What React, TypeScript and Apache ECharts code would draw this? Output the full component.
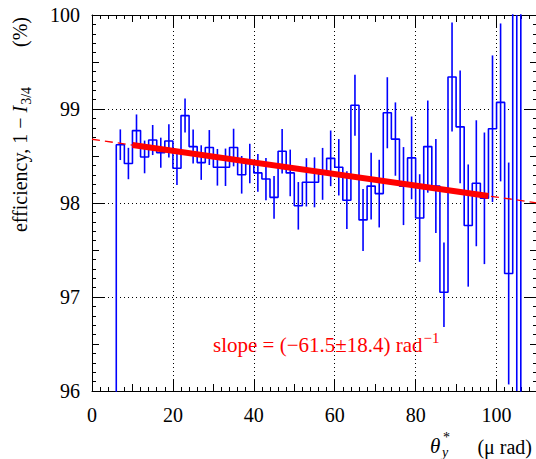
import React, { useEffect, useRef } from "react";
import * as echarts from "echarts";

// ---- data ----
const binCenters = [7, 9, 11, 13, 15, 17, 19, 21, 23, 25, 27, 29, 31, 33, 35, 37, 39, 41, 43, 45, 47, 49, 51, 53, 55, 57, 59, 61, 63, 65, 67, 69, 71, 73, 75, 77, 79, 81, 83, 85, 87, 89, 91, 93, 95, 97, 99, 101, 103, 105];
const binWidth = 2;
const emptyBinValue = 0;
const efficiency = [98.62, 98.42, 98.77, 98.49, 98.67, 98.535, 98.66, 98.37, 98.93, 98.6, 98.43, 98.59, 98.38, 98.38, 98.59, 98.3, 98.42, 98.32, 98.255, 98.06, 98.55, 98.32, 97.97, 98.22, 98.22, 98.31, 98.475, 98.38, 98.03, 99.04, 97.82, 98.18, 98.1, 98.96, 98.68, 98.18, 98.48, 97.84, 98.6, 98.18, 97.05, 99.34, 98.81, 97.76, 98.21, 98.05, 98.79, 99.07, 97.25, 100.8];
const errUp = [0.163, 0.167, 0.172, 0.174, 0.16, 0.16, 0.177, 0.179, 0.181, 0.181, 0.184, 0.186, 0.195, 0.199, 0.2, 0.2, 0.21, 0.2, 0.225, 0.227, 0.236, 0.248, 0.253, 0.257, 0.266, 0.276, 0.296, 0.3, 0.307, 0.325, 0.33, 0.355, 0.36, 0.378, 0.39, 0.415, 0.44, 0.466, 0.49, 0.5, 0.53, 0.58, 0.6, 0.65, 0.67, 0.7, 0.78, 0.84, 1.18, 5.5];
const errDown = [0.163, 0.167, 0.172, 0.174, 0.16, 0.16, 0.177, 0.179, 0.181, 0.181, 0.184, 0.186, 0.195, 0.199, 0.2, 0.2, 0.21, 0.2, 0.225, 0.227, 0.236, 0.248, 0.253, 0.257, 0.266, 0.276, 0.296, 0.3, 0.307, 0.325, 0.33, 0.355, 0.36, 0.378, 0.39, 0.415, 0.44, 0.466, 0.49, 0.5, 0.37, 0.58, 0.6, 0.65, 0.67, 0.7, 0.78, 0.84, 1.18, 5.5];

const fitIntercept = 98.678; // % at theta = 0
const fitSlopePerRad = -61.5; // rad^-1
const fitSlopeErr = 18.4;
const fitRange = [10, 98]; // urad
const fullRange = [0, 110];
const yRange = [96, 100];
const xMajor = 20;
const xMid = 10;
const yMajor = 1;
const yMid = 0.5;

// ---- derived ----
const slopePctPerUrad = fitSlopePerRad * 1e-6 * 100;
const fitAt = (x: number) => fitIntercept + slopePctPerUrad * x;

const FONT = '"Liberation Serif", "Times New Roman", serif';
const BLUE = "#0000ff";
const RED = "#ff0000";

export default function App() {
  const ref = useRef<HTMLDivElement>(null);
  useEffect(() => {
    if (!ref.current) return;
    const chart = echarts.init(ref.current, undefined, { renderer: "svg" });

    const last = binCenters.length - 1;
    const stepData: number[][] = [[binCenters[0] - binWidth / 2, emptyBinValue]];
    binCenters.forEach((c, i) => stepData.push([c - binWidth / 2, efficiency[i]]));
    stepData.push([binCenters[last] + binWidth / 2, efficiency[last]]);
    stepData.push([binCenters[last] + binWidth / 2, emptyBinValue]);

    const errData = binCenters.map((c, i) => [c, efficiency[i] - errDown[i], efficiency[i] + errUp[i]]);

    const dotted = { show: true, lineStyle: { color: "#000", width: 1, type: [1, 3] as any } };
    const mkX = (position: string, interval: number, tickLen: number, main: boolean, minor: boolean) => ({
      type: "value",
      position,
      min: fullRange[0],
      max: fullRange[1],
      interval,
      axisLine: { show: main, onZero: false, lineStyle: { color: "#000", width: 1 } },
      axisTick: { show: true, inside: true, length: tickLen, lineStyle: { color: "#000", width: 1 } },
      minorTick: { show: minor, splitNumber: 5, length: 4, lineStyle: { color: "#000", width: 1 } },
      axisLabel: {
        show: main && position === "bottom",
        fontFamily: FONT,
        fontSize: 20,
        color: "#000",
        margin: 14,
        formatter: (v: number) => (v > 100 ? "" : String(v)),
      },
      splitLine: main && position === "bottom" ? dotted : { show: false },
    });
    const mkY = (position: string, interval: number, tickLen: number, main: boolean, minor: boolean) => ({
      type: "value",
      position,
      min: yRange[0],
      max: yRange[1],
      interval,
      axisLine: { show: main, onZero: false, lineStyle: { color: "#000", width: 1 } },
      axisTick: { show: true, inside: true, length: tickLen, lineStyle: { color: "#000", width: 1 } },
      minorTick: { show: minor, splitNumber: 5, length: 4, lineStyle: { color: "#000", width: 1 } },
      axisLabel: {
        show: main && position === "left",
        fontFamily: FONT,
        fontSize: 20,
        color: "#000",
        margin: 12,
        padding: [8, 0, 0, 0],
      },
      splitLine: main && position === "left" ? dotted : { show: false },
    });

    chart.setOption({
      animation: false,
      grid: { left: 92, top: 15, width: 445, height: 376, containLabel: false },
      xAxis: [
        mkX("bottom", xMajor, 12, true, false),
        mkX("bottom", xMid, 7, false, true),
        mkX("top", xMajor, 12, true, false),
        mkX("top", xMid, 7, false, true),
      ],
      yAxis: [
        mkY("left", yMajor, 12, true, false),
        mkY("left", yMid, 7, false, true),
        mkY("right", yMajor, 12, true, false),
        mkY("right", yMid, 7, false, true),
      ],
      series: [
        {
          type: "line",
          step: "end",
          data: stepData,
          symbol: "none",
          clip: true,
          lineStyle: { color: BLUE, width: 1.6 },
          z: 3,
        },
        {
          type: "custom",
          data: errData,
          clip: true,
          renderItem: (params: any, api: any) => {
            const x = api.value(0);
            const lo = Math.max(api.value(1), yRange[0]);
            const hi = Math.min(api.value(2), yRange[1]);
            const p1 = api.coord([x, lo]);
            const p2 = api.coord([x, hi]);
            return {
              type: "line",
              shape: { x1: p1[0], y1: p1[1], x2: p2[0], y2: p2[1] },
              style: { stroke: BLUE, lineWidth: 1.6 },
            };
          },
          z: 3,
        },
        {
          type: "line",
          data: [[fullRange[0], fitAt(fullRange[0])], [fullRange[1], fitAt(fullRange[1])]],
          symbol: "none",
          lineStyle: { color: RED, width: 1.3, type: [8, 5] },
          z: 4,
        },
        {
          type: "line",
          data: [[fitRange[0], fitAt(fitRange[0])], [fitRange[1], fitAt(fitRange[1])]],
          symbol: "none",
          lineStyle: { color: RED, width: 6, cap: "butt" },
          z: 5,
        },
      ],
      graphic: [
        {
          type: "text",
          x: 20,
          y: 17,
          rotation: Math.PI / 2,
          style: {
            text: "{n|efficiency, 1 − }{i|I}{s|3/4}{n|        (%)}",
            align: "right",
            verticalAlign: "middle",
            fill: "#000",
            fontFamily: FONT,
            fontSize: 20,
            rich: {
              n: { fontFamily: FONT, fontSize: 20, fill: "#000", lineHeight: 20 },
              i: { fontFamily: FONT, fontSize: 20, fontStyle: "italic", fill: "#000", lineHeight: 20 },
              s: { fontFamily: FONT, fontSize: 14, fill: "#000", lineHeight: 14, padding: [12, 0, 0, 1] },
            },
          },
        },
        {
          type: "text",
          x: 213,
          y: 345,
          style: {
            text: `{n|slope = (−${Math.abs(fitSlopePerRad).toFixed(1)}±${fitSlopeErr.toFixed(1)}) rad}{p|−1}`,
            align: "left",
            verticalAlign: "middle",
            fill: RED,
            fontFamily: FONT,
            fontSize: 21,
            rich: {
              n: { fontFamily: FONT, fontSize: 21, fill: RED, lineHeight: 21 },
              p: { fontFamily: FONT, fontSize: 15, fill: RED, lineHeight: 15, padding: [0, 0, 14, 1] },
            },
          },
        },
        {
          type: "text",
          x: 430,
          y: 446,
          style: { text: "θ", fontFamily: FONT, fontSize: 21, fontStyle: "italic", fill: "#000", align: "left", verticalAlign: "middle" },
        },
        {
          type: "text",
          x: 443,
          y: 437,
          style: { text: "*", fontFamily: FONT, fontSize: 14, fill: "#000", align: "left", verticalAlign: "middle" },
        },
        {
          type: "text",
          x: 442,
          y: 452,
          style: { text: "y", fontFamily: FONT, fontSize: 14, fontStyle: "italic", fill: "#000", align: "left", verticalAlign: "middle" },
        },
        {
          type: "text",
          x: 532,
          y: 447,
          style: { text: "(μ rad)", fontFamily: FONT, fontSize: 20, fill: "#000", align: "right", verticalAlign: "middle" },
        },
      ],
    });
    return () => chart.dispose();
  }, []);
  return (
    <div
      ref={ref}
      style={{ position: "fixed", left: 0, top: 0, width: 540, height: 459, background: "#fff" }}
    />
  );
}
